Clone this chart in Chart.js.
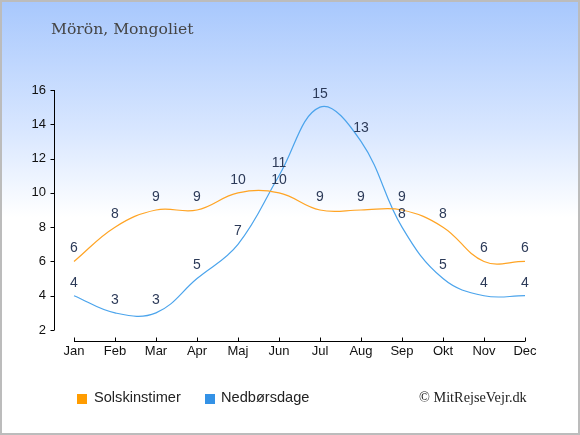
<!DOCTYPE html>
<html><head><meta charset="utf-8">
<script src="https://cdn.jsdelivr.net/npm/chart.js@4"></script>
<style>
html,body{margin:0;padding:0;}
#frame{position:absolute;left:0;top:0;width:580px;height:435px;box-sizing:border-box;border:2px solid #bcbcbc;
background:linear-gradient(to bottom,#a8c8fd 0px,#d9e7ff 130px,#ffffff 215px,#ffffff 435px);}
#wrap{position:absolute;left:0;top:0;width:580px;height:435px;}
.t{position:absolute;white-space:nowrap;}
#title{left:51px;top:20px;font-family:"DejaVu Serif",serif;font-size:15.6px;color:#444;}
.lg{top:389px;font-family:"Liberation Sans",Arial,sans-serif;font-size:14.6px;color:#222;}
.sq{position:absolute;top:394px;width:10px;height:10px;}
#copy{left:419px;top:389px;font-family:"Liberation Serif",serif;font-size:14.3px;color:#222;}
</style></head>
<body>
<div id="frame"></div>
<div id="wrap"><canvas id="c"></canvas></div>
<div class="t" id="title">Mörön, Mongoliet</div>
<div class="sq" id="sq1" style="left:77px;"></div>
<div class="t lg" style="left:94px;">Solskinstimer</div>
<div class="sq" id="sq2" style="left:205px;"></div>
<div class="t lg" style="left:221px;">Nedbørsdage</div>
<div class="t" id="copy">© MitRejseVejr.dk</div>
<script>
const months = ["Jan","Feb","Mar","Apr","Maj","Jun","Jul","Aug","Sep","Okt","Nov","Dec"];
const sunHours = [6,8,9,9,10,10,9,9,9,8,6,6];
const rainDays = [4,3,3,5,7,11,15,13,8,5,4,4];
const yTicks = [2,4,6,8,10,12,14,16];
const seriesNames = ["Solskinstimer","Nedbørsdage"];
const lineColors = ["#ffa424","#4ba4ec"];
const legendColors = ["#ff9c00","#3492e6"];

document.getElementById('sq1').style.background = legendColors[0];
document.getElementById('sq2').style.background = legendColors[1];

const axisPlugin = {
  id:'axes',
  afterDraw(chart){
    const ctx = chart.ctx, x = chart.scales.x, y = chart.scales.y;
    ctx.save();
    ctx.strokeStyle = '#000'; ctx.lineWidth = 1;
    const ax = Math.round(chart.chartArea.left - 20) + 0.5;
    ctx.beginPath();
    ctx.moveTo(ax, y.getPixelForValue(yTicks[yTicks.length-1]));
    ctx.lineTo(ax, y.getPixelForValue(yTicks[0]));
    yTicks.forEach(v=>{ const py = Math.round(y.getPixelForValue(v))+0.5; ctx.moveTo(ax-4,py); ctx.lineTo(ax,py); });
    const ay = Math.round(chart.chartArea.bottom + 11) + 0.5;
    ctx.moveTo(x.getPixelForValue(0), ay);
    ctx.lineTo(x.getPixelForValue(months.length-1), ay);
    months.forEach((m,i)=>{ const px = Math.round(x.getPixelForValue(i))+0.5; ctx.moveTo(px,ay-4); ctx.lineTo(px,ay); });
    ctx.stroke();
    ctx.restore();
  }
};
const labelPlugin = {
  id:'vals',
  afterDatasetsDraw(chart){
    const ctx = chart.ctx;
    ctx.save();
    ctx.font = '14px "Liberation Sans", Arial, sans-serif';
    ctx.fillStyle = '#2c3a58';
    ctx.textAlign = 'center'; ctx.textBaseline = 'middle';
    chart.data.datasets.forEach((ds,di)=>{
      chart.getDatasetMeta(di).data.forEach((pt,i)=>{
        ctx.fillText(String(ds.data[i]), pt.x, pt.y - 13);
      });
    });
    ctx.restore();
  }
};

new Chart(document.getElementById('c'), {
  type:'line',
  data:{
    labels: months,
    datasets:[
      {label:seriesNames[0], data:sunHours, borderColor:lineColors[0], borderWidth:1.2, pointRadius:0, tension:0.4, fill:false, clip:false},
      {label:seriesNames[1], data:rainDays, borderColor:lineColors[1], borderWidth:1.2, pointRadius:0, tension:0.4, fill:false, clip:false}
    ]
  },
  options:{
    responsive:true, maintainAspectRatio:false, animation:false,
    layout:{padding:{left:0,right:55,top:90,bottom:0}},
    plugins:{legend:{display:false}, title:{display:false}, tooltip:{enabled:false}},
    scales:{
      x:{
        grid:{display:false, drawTicks:false}, border:{display:false},
        ticks:{padding:14, color:'#111', font:{family:'"Liberation Sans", Arial, sans-serif', size:13}, maxRotation:0, autoSkip:false},
        afterFit(s){ s.height = 105; }
      },
      y:{
        min:2, max:16,
        grid:{display:false, drawTicks:false}, border:{display:false},
        ticks:{stepSize:2, padding:28, color:'#111', font:{family:'"Liberation Sans", Arial, sans-serif', size:13}},
        afterFit(s){ s.width = 74; }
      }
    }
  },
  plugins:[axisPlugin, labelPlugin]
});
</script>
</body></html>
